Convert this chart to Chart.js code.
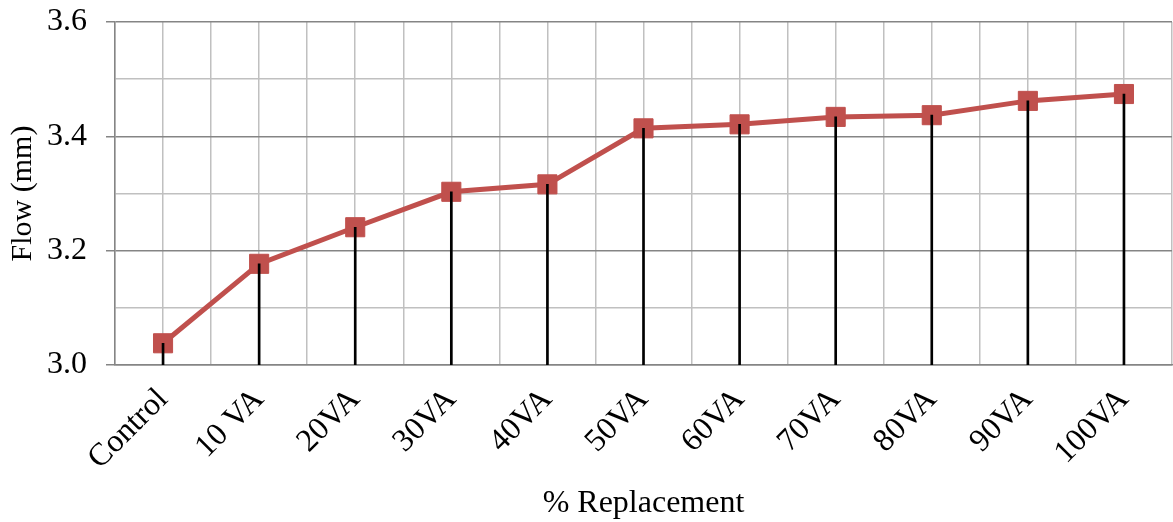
<!DOCTYPE html>
<html>
<head>
<meta charset="utf-8">
<script src="https://cdn.jsdelivr.net/npm/chart.js@4"></script>
<style>
  html, body { margin: 0; padding: 0; background: #fff; overflow: hidden; }
  #flowChart { display: block; }
</style>
</head>
<body>
<canvas id="flowChart" width="1173" height="522"></canvas>
<script>
// Data
const categories = ['Control', '10 VA', '20VA', '30VA', '40VA', '50VA', '60VA', '70VA', '80VA', '90VA', '100VA'];
const flowValues = [3.038, 3.177, 3.241, 3.303, 3.316, 3.414, 3.421, 3.434, 3.437, 3.462, 3.474];
const yMin = 3.0;
const yMax = 3.6;
const yStep = 0.05;

const serif = '"Liberation Serif", "Times New Roman", serif';
const majorGrey = '#858585';
const minorGrey = '#c0c0c0';

function isMajor(v) {
    return Math.abs(v * 5 - Math.round(v * 5)) < 1e-6;
}

// keep label overhang from shrinking the plot area
function noPad(scale) {
    scale.paddingLeft = 0;
    scale.paddingRight = 0;
    scale.paddingTop = 0;
    scale.paddingBottom = 0;
}

const ctx = document.getElementById('flowChart').getContext('2d');
new Chart(ctx, {
    data: {
        labels: categories,
        datasets: [
            {
                type: 'bar',
                label: 'drop',
                data: flowValues,
                backgroundColor: '#000',
                barThickness: 2,
                order: 0,
            },
            {
                type: 'line',
                label: 'Flow',
                data: flowValues,
                borderColor: '#c0504d',
                backgroundColor: '#c0504d',
                borderWidth: 5,
                pointStyle: 'rect',
                pointRadius: 13.5,
                pointBorderWidth: 1,
                pointBorderColor: '#c0504d',
                pointBackgroundColor: '#c0504d',
                tension: 0,
                clip: false,
                order: 1,
            },
        ],
    },
    options: {
        responsive: false,
        animation: false,
        layout: { autoPadding: false, padding: { top: 22, right: 1, left: 0, bottom: 0 } },
        plugins: {
            legend: { display: false },
            tooltip: { enabled: false },
        },
        scales: {
            x: {
                type: 'category',
                offset: true,
                grid: { display: false },
                border: { color: majorGrey, width: 1.5 },
                ticks: {
                    color: '#000',
                    font: { family: serif, size: 32 },
                    minRotation: 45,
                    maxRotation: 45,
                    padding: 8,
                    autoSkip: false,
                },
                title: {
                    display: true,
                    text: '% Replacement',
                    color: '#000',
                    font: { family: serif, size: 32 },
                    padding: { top: 0, bottom: -1 },
                },
                afterFit: function (scale) { scale.height = 157; noPad(scale); },
            },
            xg: {
                type: 'linear',
                position: 'top',
                min: -0.5,
                max: categories.length - 0.5,
                afterBuildTicks: function (scale) {
                    const t = [];
                    for (let v = -0.5; v <= categories.length - 0.5 + 1e-9; v += 0.5) t.push({ value: v });
                    scale.ticks = t;
                },
                grid: { color: minorGrey, lineWidth: 1.5, drawTicks: false },
                border: { display: false },
                ticks: { display: false },
                afterFit: function (scale) { scale.height = 0; noPad(scale); },
            },
            y: {
                type: 'linear',
                min: yMin,
                max: yMax,
                afterBuildTicks: function (scale) {
                    const t = [];
                    for (let i = 0; i <= Math.round((yMax - yMin) / yStep); i++) t.push({ value: +(yMin + i * yStep).toFixed(2) });
                    scale.ticks = t;
                },
                grid: {
                    color: (c) => isMajor(c.tick.value) ? majorGrey : minorGrey,
                    tickColor: (c) => isMajor(c.tick.value) ? majorGrey : 'rgba(0,0,0,0)',
                    lineWidth: 1.5,
                    tickLength: 9,
                },
                border: { color: majorGrey, width: 1.5 },
                ticks: {
                    color: '#000',
                    font: { family: serif, size: 32 },
                    padding: 19,
                    callback: (v) => isMajor(v) ? v.toFixed(1) : '',
                },
                title: {
                    display: true,
                    text: 'Flow (mm)',
                    color: '#000',
                    font: { family: serif, size: 30 },
                    padding: { top: 5, bottom: 0 },
                },
                afterFit: function (scale) { scale.width = 115; noPad(scale); },
            },
        },
    },
});
</script>
</body>
</html>
